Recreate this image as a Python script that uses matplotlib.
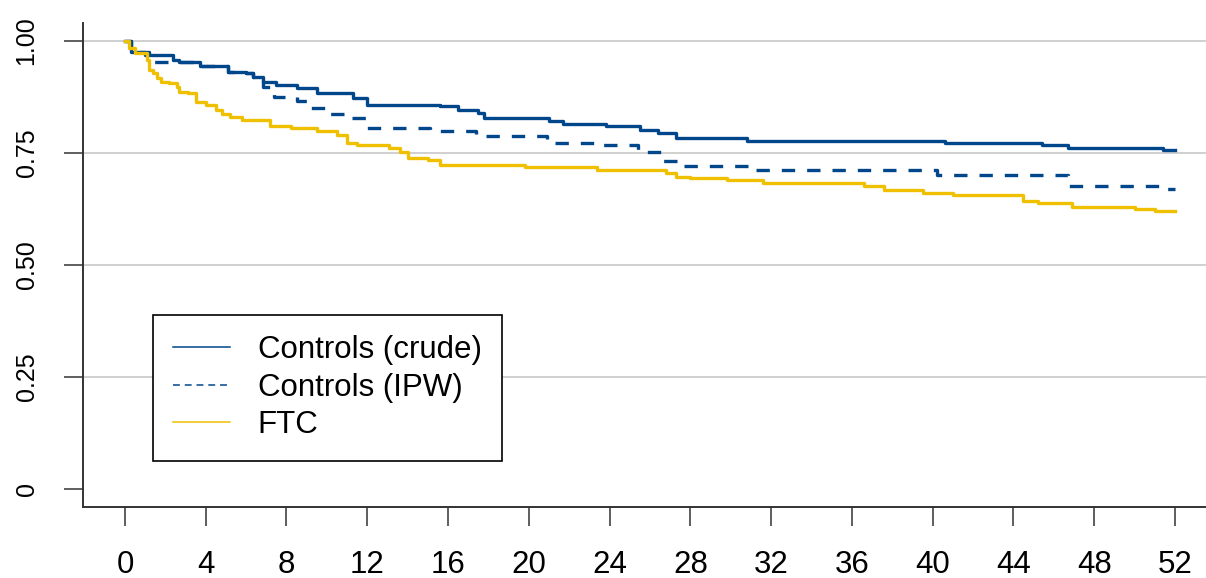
import matplotlib
matplotlib.use("Agg")
import matplotlib.pyplot as plt
from matplotlib.lines import Line2D

plt.rcParams['font.family'] = ['Liberation Sans', 'DejaVu Sans']

# Kaplan-Meier style step data (weeks, survival)
crude_t = [0, 0.3, 1.0, 2.4, 2.7, 3.7, 5.1, 6.0, 6.35, 6.85,
           7.5, 8.5, 9.5, 11.3, 12.0, 15.6, 16.5, 17.5, 17.8, 21.0,
           21.7, 23.8, 25.5, 26.4, 27.3, 30.8, 40.6, 45.4, 46.7, 51.4, 52]
crude_s = [1.0, .975, .969, .958, .954, .943, .931, .928, .920, .909,
           .902, .895, .884, .873, .858, .855, .846, .839, .828, .822,
           .815, .810, .801, .795, .783, .777, .772, .768, .760, .757, .757]

ipw_t = [0, 0.3, 1.2, 3.7, 5.1, 6.0, 6.35, 6.85, 7.4, 8.5,
         9.2, 10.1, 11.2, 12.0, 15.1, 17.4, 20.9, 23.7, 25.4, 26.6,
         27.4, 31.0, 40.2, 46.7, 51.2, 52]
ipw_s = [1.0, .975, .954, .943, .931, .928, .920, .897, .876, .865,
         .850, .836, .828, .805, .798, .788, .772, .768, .753, .731,
         .721, .712, .701, .676, .669, .669]

ftc_t = [0, 0.2, 0.5, 1.1, 1.2, 1.4, 1.6, 1.8, 2.2, 2.6,
         2.7, 3.1, 3.5, 4.0, 4.5, 4.8, 5.2, 5.8, 7.2, 8.2,
         9.5, 10.5, 11.0, 11.5, 13.1, 13.6, 14.0, 15.0, 15.6, 19.8,
         23.4, 26.8, 27.3, 28.0, 29.8, 31.6, 36.6, 37.6, 39.5, 41.0,
         44.5, 45.2, 46.9, 50.0, 51.0, 52]
ftc_s = [1.0, .985, .973, .958, .935, .928, .917, .909, .906, .898,
         .887, .883, .864, .857, .845, .838, .831, .824, .810, .805,
         .798, .790, .772, .768, .760, .753, .738, .734, .723, .718,
         .711, .705, .697, .694, .690, .682, .676, .667, .660, .656,
         .643, .638, .630, .626, .621, .621]

x_ticks = list(range(0, 53, 4))
y_ticks = [0, 0.25, 0.5, 0.75, 1.0]
y_labels = ['0', '0.25', '0.50', '0.75', '1.00']
labels = ['Controls (crude)', 'Controls (IPW)', 'FTC']

blue = '#00468B'
gold = '#EFC000'

fig = plt.figure(figsize=(12.06, 5.78), dpi=100)
ax = fig.add_axes([0.0688, 0.1228, 0.9312, 0.8374])

ax.step(crude_t, crude_s, where='post', color=blue, lw=2.4)
ax.step(ipw_t, ipw_s, where='post', color=blue, lw=2.4, linestyle=(0, (4, 3.6)))
ax.step(ftc_t, ftc_s, where='post', color=gold, lw=2.4)

ax.set_xlim(-2.08, 53.54)
ax.set_ylim(-0.04, 1.04)
ax.set_xticks(x_ticks)
ax.set_yticks(y_ticks)
ax.set_yticklabels(y_labels, rotation=90, va='center')

ax.grid(axis='y', color='#c8c8c8', lw=1.2)
ax.yaxis.get_gridlines()[0].set_visible(False)
ax.set_axisbelow(True)

for side in ['top', 'right']:
    ax.spines[side].set_visible(False)
for side in ['left', 'bottom']:
    ax.spines[side].set_color('#333333')
    ax.spines[side].set_linewidth(1.4)

ax.tick_params(axis='x', direction='out', length=14, width=1.1, color='#333333',
               labelsize=22.5, pad=17)
ax.tick_params(axis='y', direction='out', length=14, width=1.1, color='#333333',
               labelsize=18, pad=18)

handles = [Line2D([], [], color=blue, lw=1.1),
           Line2D([], [], color=blue, lw=1.1, linestyle=(0, (4.5, 3.2))),
           Line2D([], [], color=gold, lw=1.1)]
leg = ax.legend(handles, labels, loc='upper left',
                bbox_to_anchor=(153 / 1206, 1 - 315 / 578),
                bbox_transform=fig.transFigure, borderaxespad=0,
                fontsize=22.5, frameon=True, fancybox=False, framealpha=1,
                edgecolor='black', handlelength=1.8, handletextpad=0.9,
                labelspacing=0.24, borderpad=0.65)
leg.get_frame().set_linewidth(1.2)

fig.savefig('out.png', dpi=100)
